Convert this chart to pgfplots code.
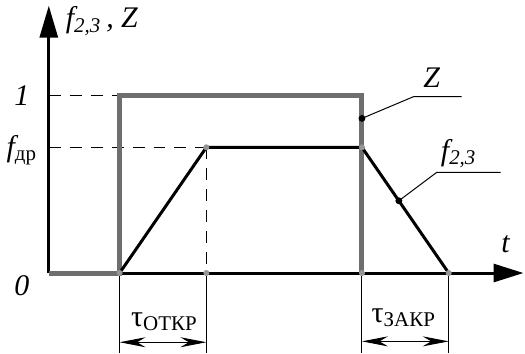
\documentclass[border=0pt]{standalone}
\usepackage{fontspec}
\setmainfont{Liberation Serif}
\usepackage{pgfplots}
\pgfplotsset{compat=1.18}
\usetikzlibrary{arrows.meta}
\begin{document}
\begin{tikzpicture}
\begin{axis}[
  scale only axis, width=262.5pt, height=180.5pt,
  xmin=-49, xmax=476, ymin=-0.4663, ymax=1.5618,
  hide axis, clip=false,
  font=\fontsize{11}{13}\selectfont,
]
% axes
\addplot[black, line width=1.5pt, -{Triangle[length=15pt,width=9pt]}] coordinates {(0,0) (476,0)};
\addplot[black, line width=1.5pt, -{Triangle[length=16pt,width=9pt]}] coordinates {(0,0) (0,1.506)};
% dashed guides
\addplot[black, line width=0.5pt, dash pattern=on 6pt off 4.5pt] coordinates {(0,1) (71,1)};
\addplot[black, line width=0.5pt, dash pattern=on 6pt off 4.5pt] coordinates {(0,0.708) (158,0.708)};
\addplot[black, line width=0.5pt, dash pattern=on 6pt off 4.5pt] coordinates {(158,0.708) (158,0)};
% extension lines
\addplot[black, line width=0.5pt] coordinates {(71,0) (71,-0.449)};
\addplot[black, line width=0.5pt] coordinates {(158,0) (158,-0.449)};
\addplot[black, line width=0.5pt] coordinates {(314,0) (314,-0.449)};
\addplot[black, line width=0.5pt] coordinates {(401,0) (401,-0.449)};
% dimension arrows
\addplot[black, line width=0.5pt, {Stealth[length=13pt,width=5pt]}-{Stealth[length=13pt,width=5pt]}] coordinates {(71,-0.39) (158,-0.39)};
\addplot[black, line width=0.5pt, {Stealth[length=13pt,width=5pt]}-{Stealth[length=13pt,width=5pt]}] coordinates {(314,-0.385) (401,-0.385)};
% Z signal
\addplot[color={rgb,255:red,110;green,110;blue,110}, line width=2.5pt, line join=miter] coordinates {(0,0) (71,0) (71,1) (314,1) (314,0)};
% f signal
\addplot[black, line width=1.5pt, line join=miter] coordinates {(71,0) (158,0.708) (314,0.708) (401,0)};
% small gray nodes
\addplot[only marks, mark=*, mark size=1.3pt, color={rgb,255:red,150;green,150;blue,150}] coordinates {(158,0.708) (158,0) (71,0) (314,0) (401,0) (314,0.708)};
% leaders
\addplot[black, line width=0.5pt] coordinates {(314,0.871) (366,0.994) (414,0.994)};
\addplot[black, line width=0.5pt] coordinates {(351,0.407) (389,0.567) (453,0.567)};
\addplot[only marks, mark=*, mark size=1.5pt, black] coordinates {(314,0.871) (351,0.407)};
% labels
\node[anchor=west] at (axis cs:10,1.42) {\fontsize{15}{17}\selectfont\itshape f\textsubscript{2,3}\,, Z};
\node at (axis cs:-27,1.0) {\fontsize{15}{17}\selectfont\itshape 1};
\node at (axis cs:-27,0.69) {\fontsize{15}{17}\selectfont\itshape f\textsubscript{\upshape др}};
\node at (axis cs:-27,-0.073) {\fontsize{15}{17}\selectfont\itshape 0};
\node at (axis cs:458,0.163) {\fontsize{15}{17}\selectfont\itshape t};
\node at (axis cs:384,1.10) {\fontsize{15}{17}\selectfont\itshape Z};
\node at (axis cs:411,0.674) {\fontsize{15}{17}\selectfont\itshape f\textsubscript{2,3}};
\node at (axis cs:116,-0.275) {\fontsize{15}{17}\selectfont τ\textsubscript{ОТКР}};
\node at (axis cs:356,-0.253) {\fontsize{15}{17}\selectfont τ\textsubscript{ЗАКР}};
\end{axis}
\end{tikzpicture}
\end{document}
